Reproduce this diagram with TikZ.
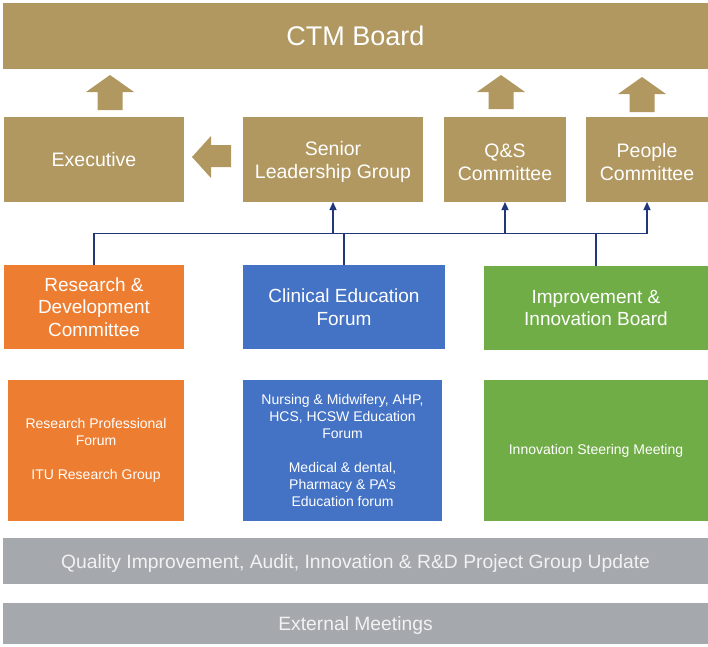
\documentclass[tikz,border=0pt]{standalone}
\usepackage{fontspec}
\setmainfont{Liberation Sans}
\usetikzlibrary{arrows.meta}
\definecolor{gold}{RGB}{177,151,96}
\definecolor{rdorange}{RGB}{237,125,49}
\definecolor{cefblue}{RGB}{68,114,196}
\definecolor{iibgreen}{RGB}{112,173,71}
\definecolor{bargrey}{RGB}{165,168,173}
\definecolor{navy}{RGB}{32,56,122}
\begin{document}
\begin{tikzpicture}[x=1pt,y=-1pt,
  box/.style={inner sep=0pt, outer sep=0pt, text=white, align=center, anchor=center},
  goldbox/.style={box, fill=gold, font=\fontsize{19.5}{23}\selectfont},
  goldtext/.style={box, font=\fontsize{19.5}{23}\selectfont},
  midbox/.style={box, font=\fontsize{19}{22.5}\selectfont},
  lowbox/.style={box, font=\fontsize{14}{17}\selectfont},
  greybar/.style={box, fill=bargrey, text=white!95!black, minimum width=705pt, font=\fontsize{19.3}{23}\selectfont, text height=14pt, text depth=0pt},
  line/.style={draw=navy, line width=1.3pt},
  arr/.style={line, -{Triangle[length=8pt,width=7pt]}},
  blockarrow/.style={fill=gold}
]
\useasboundingbox (0,0) rectangle (708,646);
\fill[white] (0,0) rectangle (708,646);

% top board
\node[goldbox, minimum width=705pt, minimum height=66pt, font=\fontsize{27}{32}\selectfont] (ctm) at (355.5,36) {CTM Board};

% second row
\node[goldbox, minimum width=180pt, minimum height=85pt] (exe) at (94,159.5) {Executive};
\node[goldbox, minimum width=180pt, minimum height=85pt] (slg) at (333,159.5) {};
\node[goldtext] (slgt) at ([yshift=-2.5pt]slg.center) {Senior\\Leadership Group};
\node[goldbox, minimum width=122pt, minimum height=85pt] (qs) at (505,159.5) {};
\node[goldtext] (qst) at ([yshift=-2.5pt]qs.center) {Q\&S\\Committee};
\node[goldbox, minimum width=122pt, minimum height=85pt] (peo) at (647,159.5) {};
\node[goldtext] (peot) at ([yshift=-2.5pt]peo.center) {People\\Committee};

% block arrows
\fill[blockarrow] (86,92) -- (110,75) -- (134,92) -- (122.5,92) -- (122.5,110) -- (97.5,110) -- (97.5,92) -- cycle;
\fill[blockarrow] (477,92) -- (501,75) -- (525,92) -- (513.5,92) -- (513.5,109) -- (488.5,109) -- (488.5,92) -- cycle;
\fill[blockarrow] (618,94) -- (642,77) -- (666,94) -- (654.5,94) -- (654.5,112) -- (629.5,112) -- (629.5,94) -- cycle;
\fill[blockarrow] (192,157) -- (211,136) -- (211,145) -- (231,145) -- (231,167) -- (211,167) -- (211,178) -- cycle;

% third row
\node[midbox, fill=rdorange, minimum width=180pt, minimum height=84pt] (rd) at (94,307) {Research \&\\Development\\Committee};
\node[midbox, fill=cefblue, minimum width=202pt, minimum height=84pt] (cef) at (344,307) {Clinical Education\\Forum};
\node[midbox, fill=iibgreen, minimum width=224pt, minimum height=84pt] (iib) at (596,308) {Improvement \&\\Innovation Board};

% fourth row
\node[lowbox, fill=rdorange, minimum width=176pt, minimum height=141pt] (lowo) at (96,450.5) {Research Professional\\Forum\\[17pt]ITU Research Group};
\node[lowbox, fill=cefblue, minimum width=199pt, minimum height=141pt] (lowb) at (342.5,450.5) {Nursing \& Midwifery, AHP,\\HCS, HCSW Education\\Forum\\[17pt]Medical \& dental,\\Pharmacy \& PA’s\\Education forum};
\node[lowbox, fill=iibgreen, minimum width=224pt, minimum height=141pt] (lowg) at (596,450.5) {Innovation Steering Meeting};

% grey bars
\node[greybar, minimum height=46pt] (qi) at (355.5,561) {Quality Improvement, Audit, Innovation \& R\&D Project Group Update};
\node[greybar, minimum height=41pt] (ext) at (355.5,623.5) {External Meetings};

% connectors
\coordinate (bL) at (94,233.5);
\coordinate (bR) at (647,233.5);
\draw[line] (rd.north) -- (bL) -- (bR);
\draw[line] (cef.north) -- (cef.north |- bL);
\draw[line] (iib.north) -- (iib.north |- bL);
\draw[arr] (slg.south |- bL) -- (slg.south);
\draw[arr] (qs.south |- bL) -- (qs.south);
\draw[arr] (peo.south |- bL) -- (peo.south);
\end{tikzpicture}
\end{document}
